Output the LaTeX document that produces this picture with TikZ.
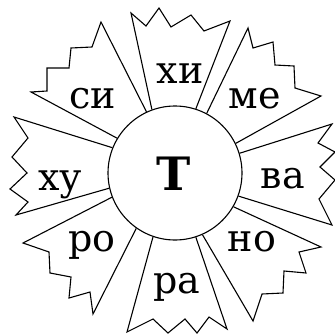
\documentclass[tikz,border=0pt]{standalone}
\usepackage{fontspec}
\setmainfont{DejaVu Serif}
\tikzset{
  petal/.style={
    draw,
    line width=1.1pt,
    line join=miter
  },
  hub/.style={
    shape=circle,
    draw,
    line width=1.1pt,
    minimum size=134pt,
    inner sep=0pt
  },
  syllable/.style={
    anchor=base,
    inner sep=0pt,
    font=\fontsize{38}{42}\selectfont
  }
}

\begin{document}
\begin{tikzpicture}[x=1pt,y=-1pt]
  \useasboundingbox (0,0) rectangle (335,335);
  \node[hub] (c) at (175,173) {};
  % petals, clockwise from the top
  \draw[petal] (c.110)--(131,13)--(146,26)--(159,8)--(171,27)--(191,15)--(204,31)--(230,21)--(c.72);
  \draw[petal] (c.62)--(248,28)--(253,48)--(273,42)--(275,65)--(294,66)--(295,88)--(321,96)--(c.26);
  \draw[petal] (c.17)--(332,124)--(318,143)--(335,152)--(320,167)--(335,180)--(319,199)--(332,225)--(c.-20);
  \draw[petal] (c.-30)--(321,247)--(299,252)--(306,273)--(284,271)--(283,293)--(262,294)--(253,321)--(c.-66);
  \draw[petal] (c.-72)--(227,329)--(209,317)--(197,333)--(185,319)--(168,333)--(153,319)--(127,332)--(c.-109);
  \draw[petal] (c.-125)--(93,314)--(90,292)--(69,298)--(71,277)--(50,273)--(49,252)--(23,243)--(c.-159);
  \draw[petal] (c.-167)--(16,215)--(28,202)--(10,189)--(27,173)--(12,157)--(28,138)--(14,117)--(c.158);
  \draw[petal] (c.149)--(31,92)--(47,91)--(47,68)--(69,68)--(71,48)--(92,47)--(101,22)--(c.115);
  % syllables
  \node[syllable, font=\fontsize{46}{50}\selectfont\bfseries] (t) at (174,190) {Т};
  \node[syllable] (xi) at (180,83) {хи};
  \node[syllable] (me) at (255,108) {ме};
  \node[syllable] (va) at (283,188) {ва};
  \node[syllable] (no) at (252,251) {но};
  \node[syllable] (ra) at (177,293) {ра};
  \node[syllable] (ro) at (92,251) {ро};
  \node[syllable] (xu) at (60,190) {ху};
  \node[syllable] (si) at (93,108) {си};
\end{tikzpicture}
\end{document}
